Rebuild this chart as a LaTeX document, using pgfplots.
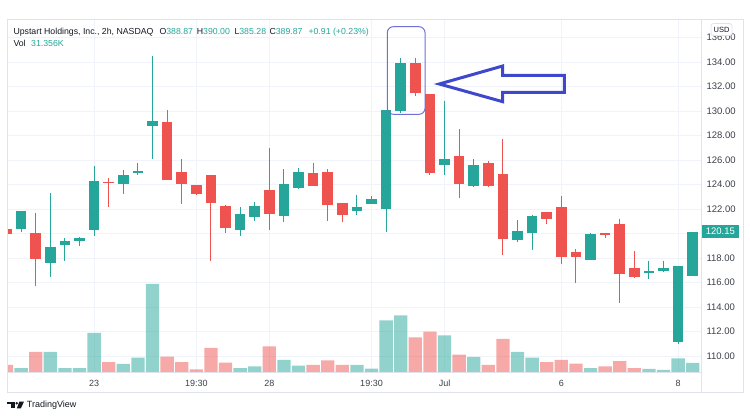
\documentclass[border=0pt]{standalone}
\usepackage{pgfplots}
\pgfplotsset{compat=1.18}
\usepackage{pgfplotstable}
\usepackage{fontspec}
\setmainfont{Liberation Sans}
\definecolor{tvup}{HTML}{26A69A}
\definecolor{tvdown}{HTML}{EF5350}
\definecolor{gridc}{HTML}{F0F3FA}
\definecolor{borderc}{HTML}{E0E3EB}
\definecolor{txt}{HTML}{131722}
\definecolor{axtxt}{HTML}{3B3F4A}
\definecolor{annot}{HTML}{3F48CC}
\definecolor{annotl}{HTML}{6E70D8}

% k = bar index, prices, vol in thousands
\pgfplotstableread{
k open high low close vol
1 120.34 121.84 120.10 121.84 13.9
3 117.56 123.28 116.47 118.92 69.7
4 119.03 119.61 117.78 119.39 13.9
5 119.39 119.69 119.00 119.63 13.9
6 120.31 125.51 119.82 124.29 135.9
8 124.01 125.18 123.20 124.74 27.9
9 124.96 125.73 124.78 125.10 49.8
10 128.78 134.51 126.06 129.21 306.6
16 120.25 122.16 119.82 121.59 13.9
17 121.32 122.60 121.02 122.27 19.9
19 121.45 125.24 120.96 124.02 41.8
20 123.74 125.35 123.63 125.02 22.0
24 121.80 123.17 121.48 122.18 24.4
25 122.38 123.04 122.38 122.82 11.5
26 121.98 130.06 120.15 130.06 180.1
27 129.97 134.30 129.86 133.89 197.5
30 125.56 130.84 124.80 126.08 127.9
32 123.88 126.08 123.77 125.59 52.3
35 119.49 121.08 119.33 120.20 69.7
36 120.04 121.53 118.65 121.43 49.8
40 117.86 120.01 117.86 119.96 13.9
44 116.75 117.76 116.29 116.94 10.5
45 116.96 117.76 116.88 117.18 7.0
46 111.17 117.37 110.98 117.37 47.7
47 116.55 120.15 116.55 120.15 31.356
}\upc

\pgfplotstableread{
k open high low close vol
0 120.34 120.34 119.93 119.93 24.4
2 120.04 121.67 115.71 117.89 69.7
7 124.20 124.55 122.19 124.12 34.8
11 129.10 130.08 124.37 124.37 53.3
12 125.02 126.06 122.38 124.07 34.8
13 123.96 123.96 123.14 123.25 9.4
14 124.80 124.80 117.78 122.51 83.6
15 122.21 122.29 120.07 120.47 32.4
18 123.52 127.00 120.29 121.62 89.5
21 124.91 125.78 123.85 123.85 24.4
22 125.02 125.24 121.04 122.30 40.8
23 122.46 122.46 120.94 121.51 24.4
28 133.89 134.35 131.25 131.50 120.9
29 131.39 131.39 124.78 124.96 140.4
31 126.30 128.50 122.87 124.04 60.3
33 125.76 125.92 123.82 123.90 24.4
34 124.83 127.71 118.24 119.58 115.0
37 121.73 121.78 120.80 121.21 34.8
38 122.14 123.06 117.53 118.11 41.8
39 118.51 118.73 115.98 118.11 28.9
41 120.07 120.07 119.63 119.88 19.9
42 120.80 121.21 114.30 116.67 38.3
43 117.18 118.57 116.39 116.47 13.9
}\downc

\pgfplotsset{
  pane/.style={
    at={(7.3pt,47pt)}, anchor=south west, scale only axis,
    width=693.7pt, height=352.5pt,
    xmin=0.0548, xmax=47.568,
  },
  candle/.style={only marks, mark=*, mark size=0pt, mark options={draw=none, fill=none}},
}

\begin{document}
\begin{tikzpicture}[x=1pt,y=1pt]
\useasboundingbox (0,0) rectangle (750,419);

% grid and scales
\begin{axis}[pane,
  ymin=108.694, ymax=137.469,
  axis line style={draw=none},
  major tick length=0pt,
  xtick={6,13,18,25,30,38,46},
  xticklabels={23,19:30,28,19:30,Jul,6,8},
  ytick={110,112,114,116,118,122,124,126,128,130,132,134,136},
  extra y ticks={120},
  extra y tick labels={},
  extra y tick style={grid=major},
  grid=major,
  major grid style={draw=gridc, line width=0.8pt},
  yticklabel pos=right,
  yticklabel style={anchor=west, xshift=2pt, font=\fontsize{9.5}{10}\selectfont, color=axtxt},
  xticklabel style={anchor=center, yshift=-11pt, font=\fontsize{9}{10}\selectfont, color=axtxt},
  /pgf/number format/fixed,
  /pgf/number format/fixed zerofill,
  /pgf/number format/precision=2,
  /pgf/number format/assume math mode=true,
]
\end{axis}

% volume
\begin{axis}[pane, ymin=0, ymax=1228.1, hide axis, ybar, bar width=13.3pt]
\addplot[fill=tvup, fill opacity=0.5, draw=none, bar shift=0pt] table[x=k, y=vol] {\upc};
\addplot[fill=tvdown, fill opacity=0.5, draw=none, bar shift=0pt] table[x=k, y=vol] {\downc};
\end{axis}

% candles
\begin{axis}[pane, ymin=108.694, ymax=137.469, hide axis]
\addplot[candle, color=tvup,
  error bars/.cd, y dir=minus, y explicit, error mark=none,
  error bar style={line width=1pt, color=tvup}]
  table[x=k, y=high, y error minus expr=\thisrow{high}-\thisrow{low}] {\upc};
\addplot[candle, color=tvup,
  error bars/.cd, y dir=minus, y explicit, error mark=none,
  error bar style={line width=10.5pt, color=tvup}]
  table[x=k, y=close, y error minus expr=\thisrow{close}-\thisrow{open}] {\upc};
\addplot[candle, color=tvdown,
  error bars/.cd, y dir=minus, y explicit, error mark=none,
  error bar style={line width=1pt, color=tvdown}]
  table[x=k, y=high, y error minus expr=\thisrow{high}-\thisrow{low}] {\downc};
\addplot[candle, color=tvdown,
  error bars/.cd, y dir=minus, y explicit, error mark=none,
  error bar style={line width=10.5pt, color=tvdown}]
  table[x=k, y=open, y error minus expr=\thisrow{open}-\thisrow{close}] {\downc};
\end{axis}

% frame
\draw[borderc, line width=0.8pt] (7,26.5) rectangle (743,399.5);
\draw[borderc, line width=0.8pt] (7,47) -- (701,47);
\draw[borderc, line width=0.8pt] (701,26.5) -- (701,399.5);

% last price label
\fill[tvup] (701.5,181) rectangle (738.5,193.5);
\node[font=\fontsize{9.5}{10}\selectfont, color=white, inner sep=0] at (720.3,187.3) {120.15};

% USD box
\filldraw[fill=white, draw=borderc, line width=0.8pt, rounded corners=2.5pt] (711,383.5) rectangle (732,395.5);
\node[font=\fontsize{7.5}{8}\selectfont, color=txt, inner sep=0] at (721.5,389.5) {USD};

% header
\begin{scope}[every node/.style={anchor=base west, inner sep=0, font=\fontsize{8.75}{10}\selectfont, color=txt}]
\node at (13.3,384) {Upstart Holdings, Inc., 2h, NASDAQ};
\node at (159.3,384) {O\textcolor{tvup}{388.87}};
\node at (196.7,384) {H\textcolor{tvup}{390.00}};
\node at (234.3,384) {L\textcolor{tvup}{385.28}};
\node at (269.3,384) {C\textcolor{tvup}{389.87}};
\node[color=tvup] at (308.3,384) {+0.91 (+0.23\%)};
\node at (13.3,372.3) {Vol};
\node[color=tvup] at (31,372.3) {31.356K};
\end{scope}

% TradingView logo
\fill[txt] (7,419-401.7) rectangle (14.5,419-404.5);
\fill[txt] (11.2,419-401.7) rectangle (14.5,419-408.3);
\fill[txt] (16.8,419-403.3) circle (1.4);
\fill[txt] (19.3,419-401.7) -- (23.9,419-401.7) -- (20.9,419-408.3) -- (16.9,419-408.3) -- cycle;
\node[anchor=base west, inner sep=0, font=\fontsize{9}{10}\selectfont, color=txt] at (26.7,11.3) {TradingView};

% annotation
\draw[annotl, line width=1pt, rounded corners=6pt] (387.3,392.3) rectangle (425,304.7);
\draw[annot, line width=3pt, line join=miter] (439.3,335) -- (502.7,353) -- (502.7,343.7) -- (564.3,343.7) -- (564.3,326.7) -- (502.7,326.7) -- (502.7,317.3) -- cycle;
\end{tikzpicture}
\end{document}
